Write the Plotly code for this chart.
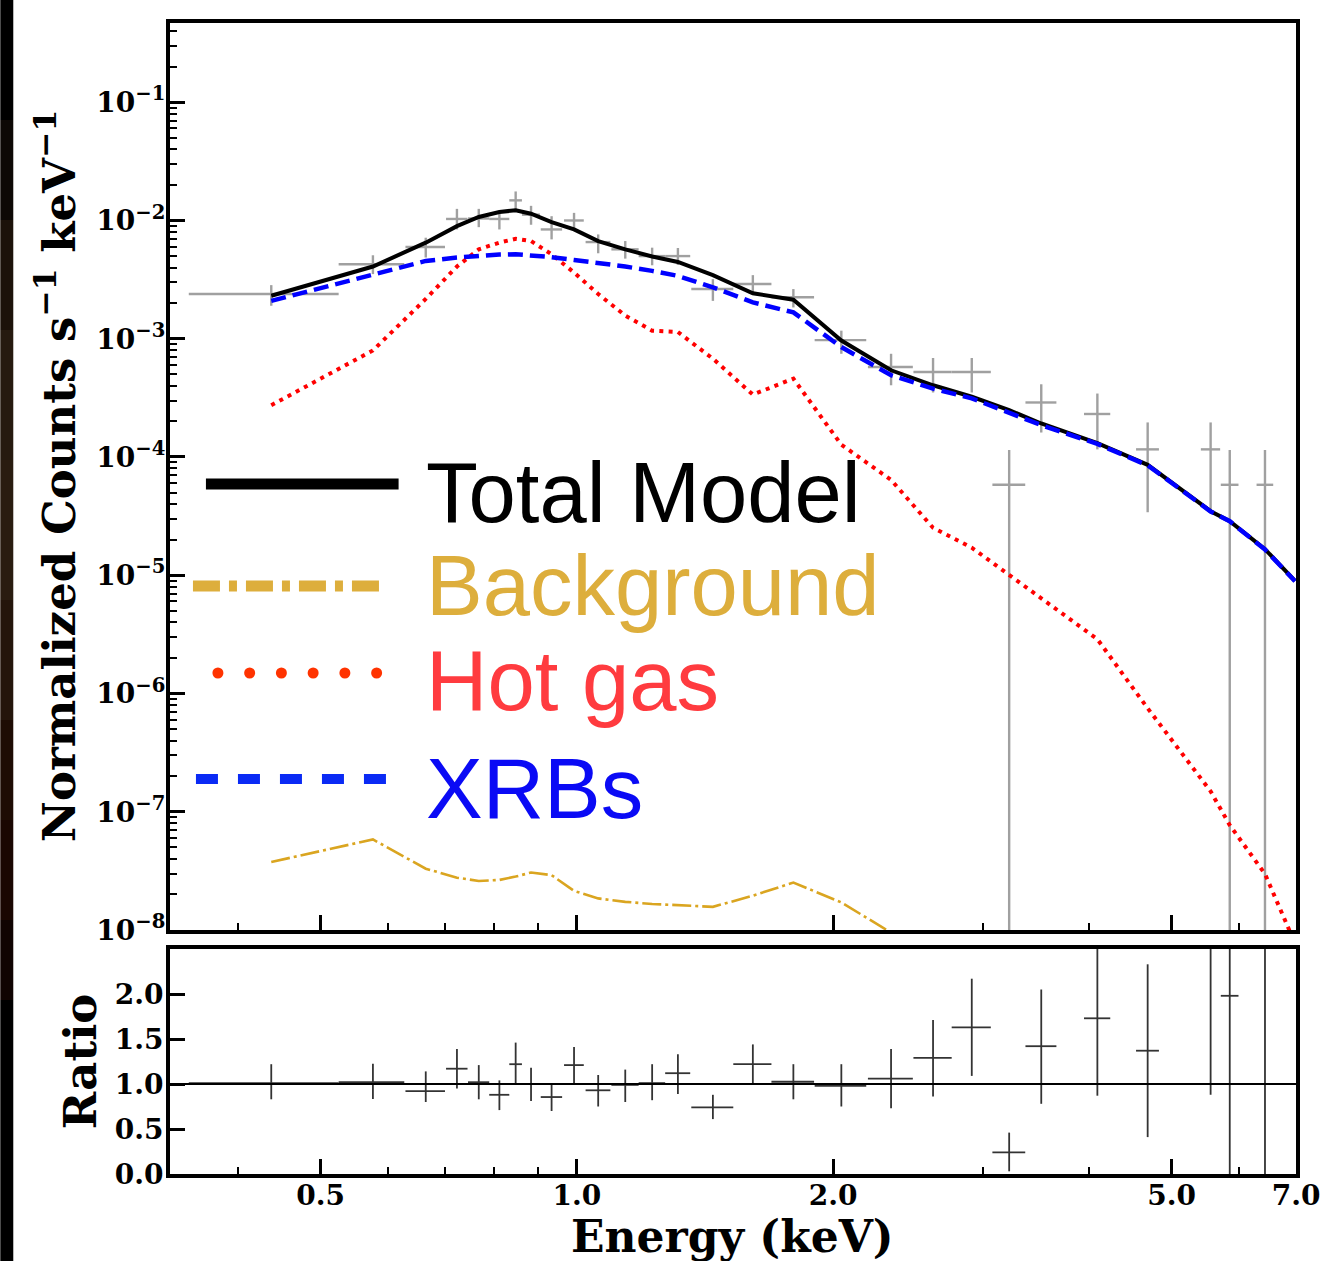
import plotly.graph_objects as go

# ---------------- data ----------------
# energy bins (keV)
e_lo = [0.350, 0.525, 0.629, 0.702, 0.745, 0.789, 0.833, 0.862, 0.907, 0.966,
        1.024, 1.098, 1.182, 1.270, 1.363, 1.527, 1.693, 1.903, 2.198, 2.486,
        2.757, 3.078, 3.366, 3.944, 4.540, 5.410, 5.710, 6.290]
e_hi = [0.525, 0.627, 0.700, 0.744, 0.789, 0.833, 0.862, 0.905, 0.961, 1.019,
        1.095, 1.182, 1.270, 1.359, 1.527, 1.693, 1.900, 2.188, 2.482, 2.757,
        3.065, 3.364, 3.660, 4.234, 4.830, 5.700, 5.990, 6.580]

# normalized counts s^-1 keV^-1 and error bar ends
counts = [2.39e-3, 4.26e-3, 5.96e-3, 1.03e-2, 1.04e-2, 1.03e-2, 1.48e-2, 1.12e-2, 8.4e-3, 1.0e-2,
          6.57e-3, 5.7e-3, 5.0e-3, 5.0e-3, 2.63e-3, 2.9e-3, 2.24e-3, 9.73e-4, 5.77e-4, 5.24e-4,
          5.24e-4, 5.82e-5, 2.89e-4, 2.31e-4, 1.16e-4, 1.16e-4, 5.82e-5, 5.82e-5]
counts_hi = [2.84e-3, 5.08e-3, 7.15e-3, 1.254e-2, 1.254e-2, 1.21e-2, 1.76e-2, 1.33e-2, 1.087e-2, 1.16e-2,
             7.62e-3, 6.7e-3, 5.89e-3, 5.85e-3, 3.19e-3, 3.45e-3, 2.63e-3, 1.17e-3, 7.46e-4, 6.87e-4,
             6.87e-4, 1.148e-4, 4.12e-4, 3.44e-4, 1.96e-4, 1.96e-4, 1.148e-4, 1.148e-4]
counts_lo = [1.90e-3, 3.52e-3, 4.86e-3, 8.4e-3, 8.78e-3, 8.4e-3, 1.20e-2, 9.2e-3, 6.92e-3, 8.13e-3,
             5.28e-3, 4.76e-3, 4.18e-3, 4.2e-3, 2.09e-3, 2.39e-3, 1.84e-3, 7.46e-4, 4.04e-4, 3.51e-4,
             3.51e-4, 1e-10, 1.61e-4, 1.16e-4, 3.41e-5, 3.41e-5, 1e-10, 1e-10]

# model curves at bin centres, plus the last model point near 7 keV
e_model_end = 6.98
total_model = [2.31e-3, 4.08e-3, 6.49e-3, 8.95e-3, 1.07e-2, 1.18e-2, 1.22e-2, 1.14e-2, 9.7e-3, 8.4e-3,
               6.7e-3, 5.7e-3, 4.96e-3, 4.46e-3, 3.45e-3, 2.42e-3, 2.14e-3, 9.66e-4, 5.41e-4, 4.04e-4,
               3.23e-4, 2.49e-4, 1.92e-4, 1.31e-4, 8.59e-5, 3.48e-5, 2.87e-5, 1.66e-5, 8.97e-6]
xrbs = [2.09e-3, 3.45e-3, 4.55e-3, 4.86e-3, 5.05e-3, 5.15e-3, 5.18e-3, 5.1e-3, 4.9e-3, 4.64e-3,
        4.4e-3, 4.08e-3, 3.75e-3, 3.40e-3, 2.72e-3, 2.03e-3, 1.67e-3, 8.5e-4, 4.91e-4, 3.79e-4,
        3.13e-4, 2.38e-4, 1.86e-4, 1.29e-4, 8.5e-5, 3.46e-5, 2.86e-5, 1.65e-5, 8.9e-6]
hot_gas = [2.74e-4, 7.96e-4, 2.17e-3, 4.08e-3, 5.7e-3, 6.5e-3, 7.0e-3, 6.7e-3, 5.18e-3, 3.63e-3,
           2.39e-3, 1.57e-3, 1.17e-3, 1.14e-3, 6.78e-4, 3.37e-4, 4.6e-4, 1.27e-4, 6.4e-5, 2.52e-5,
           1.71e-5, 1.01e-5, 6.49e-6, 2.88e-6, 7.5e-7, 1.49e-7, 7.7e-8, 2.98e-8, 7.7e-9]
background = [3.76e-8, 5.83e-8, 3.30e-8, 2.77e-8, 2.60e-8, 2.65e-8, 2.83e-8, 3.06e-8, 2.91e-8, 2.14e-8,
              1.85e-8, 1.73e-8, 1.66e-8, 1.63e-8, 1.57e-8, 1.95e-8, 2.52e-8, 1.71e-8, 9.5e-9]

# data / model ratio and error bar ends
ratio = [1.01, 1.02, 0.92, 1.17, 1.02, 0.88, 1.22, 1.00, 0.855, 1.21,
         0.93, 0.99, 1.01, 1.12, 0.74, 1.22, 1.025, 0.98, 1.06, 1.29,
         1.63, 0.24, 1.42, 1.73, 1.37, 2.60, 1.98, 3.40]
ratio_hi = [1.22, 1.225, 1.14, 1.39, 1.21, 1.04, 1.46, 1.18, 1.01, 1.41,
            1.10, 1.16, 1.22, 1.33, 0.88, 1.44, 1.22, 1.22, 1.39, 1.71,
            2.17, 0.46, 2.05, 2.70, 2.33, 4.00, 4.00, 5.00]
ratio_lo = [0.83, 0.833, 0.80, 0.95, 0.83, 0.71, 0.99, 0.81, 0.70, 1.00,
            0.75, 0.80, 0.82, 0.89, 0.61, 1.00, 0.83, 0.75, 0.73, 0.86,
            1.09, 0.03, 0.78, 0.87, 0.41, 0.88, -0.5, -0.5]

x_ticks = [0.5, 1.0, 2.0, 5.0, 7.0]
x_tick_text = ["0.5", "1.0", "2.0", "5.0", "7.0"]
x_minor = [0.4, 0.6, 0.7, 0.8, 0.9, 3.0, 4.0, 6.0]
y_ticks = [1e-8, 1e-7, 1e-6, 1e-5, 1e-4, 1e-3, 1e-2, 1e-1]
y_tick_text = ["10<sup>−8</sup>", "10<sup>−7</sup>", "10<sup>−6</sup>", "10<sup>−5</sup>",
               "10<sup>−4</sup>", "10<sup>−3</sup>", "10<sup>−2</sup>", "10<sup>−1</sup>"]
r_ticks = [0.0, 0.5, 1.0, 1.5, 2.0]
r_tick_text = ["0.0", "0.5", "1.0", "1.5", "2.0"]

legend_labels = ["Total Model", "Background", "Hot gas", "XRBs"]

# ---------------- derived ----------------
e_c = [(a + b) / 2 for a, b in zip(e_lo, e_hi)]
ex_plus = [b - c for b, c in zip(e_hi, e_c)]
ex_minus = [c - a for a, c in zip(e_lo, e_c)]
e_model = e_c + [e_model_end]
cy_plus = [h - v for h, v in zip(counts_hi, counts)]
cy_minus = [v - l for l, v in zip(counts_lo, counts)]
ry_plus = [h - v for h, v in zip(ratio_hi, ratio)]
ry_minus = [v - l for l, v in zip(ratio_lo, ratio)]

minor_y = [m * 10.0 ** k for k in range(-8, 0) for m in range(2, 10)]

SERIF = "DejaVu Serif"
SANS = "Liberation Sans"
W, H = 1332, 1261
ML, MR, MT, MB = 170, 34, 23, 87
PW, PH = W - ML - MR, H - MT - MB


def pxx(px):
    return (px - ML) / PW


def pxy(py):
    return (H - MB - py) / PH


fig = go.Figure()

# data crosses (top)
fig.add_trace(go.Scatter(
    x=e_c, y=counts, mode="markers", marker=dict(size=1, color="rgba(0,0,0,0)"),
    error_x=dict(type="data", array=ex_plus, arrayminus=ex_minus, symmetric=False,
                 color="#a0a0a0", thickness=2.4, width=0),
    error_y=dict(type="data", array=cy_plus, arrayminus=cy_minus, symmetric=False,
                 color="#a0a0a0", thickness=2.4, width=0),
    showlegend=False, xaxis="x", yaxis="y"))

fig.add_trace(go.Scatter(x=e_model[:len(background)], y=background, mode="lines",
                         line=dict(color="#DAA520", width=2.6, dash="19px,4px,3px,4px"),
                         showlegend=False, xaxis="x", yaxis="y"))
fig.add_trace(go.Scatter(x=e_model, y=hot_gas, mode="lines",
                         line=dict(color="#FF0000", width=4, dash="4px,5.3px"),
                         showlegend=False, xaxis="x", yaxis="y"))
fig.add_trace(go.Scatter(x=e_model, y=total_model, mode="lines",
                         line=dict(color="black", width=4),
                         showlegend=False, xaxis="x", yaxis="y"))
fig.add_trace(go.Scatter(x=e_model, y=xrbs, mode="lines",
                         line=dict(color="#0000FF", width=4.5, dash="15px,7px"),
                         showlegend=False, xaxis="x", yaxis="y"))

# ratio crosses (bottom)
fig.add_trace(go.Scatter(
    x=e_c, y=ratio, mode="markers", marker=dict(size=1, color="rgba(0,0,0,0)"),
    error_x=dict(type="data", array=ex_plus, arrayminus=ex_minus, symmetric=False,
                 color="#333333", thickness=1.8, width=0),
    error_y=dict(type="data", array=ry_plus, arrayminus=ry_minus, symmetric=False,
                 color="#333333", thickness=1.8, width=0),
    showlegend=False, xaxis="x2", yaxis="y2"))

axis_common = dict(showline=True, mirror=True, linewidth=4, linecolor="black",
                   ticks="inside", tickcolor="black", showgrid=False, zeroline=False,
                   tickfont=dict(family=SERIF, size=28, color="black", weight="bold"))

top_dom = [pxy(930), 1.0]
bot_dom = [0.0, pxy(949)]

fig.update_layout(
    width=W, height=H,
    margin=dict(l=ML, r=MR, t=MT, b=MB, pad=0),
    paper_bgcolor="white", plot_bgcolor="white",
    xaxis=dict(type="log", range=[-0.478, 0.845], domain=[0, 1], anchor="y",
               tickvals=x_ticks, ticktext=x_tick_text, showticklabels=False,
               ticklen=15, tickwidth=2.5,
               minor=dict(tickvals=x_minor, ticks="inside", ticklen=7, tickwidth=2,
                          tickcolor="black", showgrid=False),
               **axis_common),
    yaxis=dict(type="log", range=[-8.0, -0.33], domain=top_dom, anchor="x",
               tickvals=y_ticks, ticktext=y_tick_text, ticklen=15, tickwidth=2.5,
               ticklabelstandoff=-5,
               minor=dict(tickvals=minor_y, ticks="inside", ticklen=7, tickwidth=2,
                          tickcolor="black", showgrid=False),
               **axis_common),
    xaxis2=dict(type="log", range=[-0.478, 0.845], domain=[0, 1], anchor="y2",
                matches="x", tickvals=x_ticks, ticktext=x_tick_text,
                ticklen=15, tickwidth=2.5, ticklabelstandoff=-7,
                minor=dict(tickvals=x_minor, ticks="inside", ticklen=7, tickwidth=2,
                           tickcolor="black", showgrid=False),
                **axis_common),
    yaxis2=dict(range=[0, 2.5], domain=bot_dom, anchor="x2",
                tickvals=r_ticks, ticktext=r_tick_text, ticklen=15, tickwidth=2.5,
                ticklabelstandoff=-3,
                **axis_common),
)

shapes = []
# ratio = 1 reference line
shapes.append(dict(type="line", xref="x2 domain", yref="y2", x0=0, x1=1, y0=1, y1=1,
                   line=dict(color="black", width=2), layer="above"))

# dark strip on the left edge of the picture
strip = [(0, 120, "#000000"), (120, 220, "#0d0805"), (220, 330, "#1c120a"),
         (330, 460, "#261a0f"), (460, 600, "#2a1c10"), (600, 720, "#24150b"),
         (720, 820, "#1e0c04"), (820, 920, "#1a0702"), (920, 1000, "#100402"),
         (1000, 1261, "#000000")]
for y0, y1, c in strip:
    shapes.append(dict(type="rect", xref="paper", yref="paper",
                       x0=pxx(0), x1=pxx(13), y0=pxy(y1), y1=pxy(y0),
                       fillcolor=c, line=dict(width=0), layer="above"))

# legend handles
shapes.append(dict(type="line", xref="paper", yref="paper", x0=pxx(206), x1=pxx(399),
                   y0=pxy(484), y1=pxy(484), line=dict(color="black", width=11)))
shapes.append(dict(type="line", xref="paper", yref="paper", x0=pxx(193), x1=pxx(388),
                   y0=pxy(586), y1=pxy(586),
                   line=dict(color="#DDAE3C", width=11, dash="27px,9px,8px,9px")))
for k in range(6):
    cx = 218 + k * 31.8
    shapes.append(dict(type="circle", xref="paper", yref="paper",
                       xsizemode="pixel", ysizemode="pixel",
                       xanchor=pxx(cx), yanchor=pxy(673),
                       x0=-5.5, x1=5.5, y0=-5.5, y1=5.5,
                       fillcolor="#FF3300", line=dict(width=0)))
shapes.append(dict(type="line", xref="paper", yref="paper", x0=pxx(196), x1=pxx(388),
                   y0=pxy(779), y1=pxy(779),
                   line=dict(color="#0A2AF5", width=10, dash="22px,20px")))

annotations = []
leg_colors = ["#000000", "#DDAE3C", "#FF3B3F", "#0A0AF5"]
leg_y = [492, 585, 681, 788]
for lab, c, yy in zip(legend_labels, leg_colors, leg_y):
    annotations.append(dict(text=lab, xref="paper", yref="paper", x=pxx(424), y=pxy(yy),
                            xanchor="left", yanchor="middle", showarrow=False,
                            font=dict(family=SANS, size=85, color=c)))

annotations.append(dict(text="Normalized Counts s<sup>−1</sup> keV<sup>−1</sup>",
                        xref="paper", yref="paper", x=pxx(56), y=pxy(476),
                        xanchor="center", yanchor="middle", textangle=-90, showarrow=False,
                        font=dict(family=SERIF, size=45, color="black", weight="bold")))
annotations.append(dict(text="Ratio", xref="paper", yref="paper", x=pxx(80), y=pxy(1062),
                        xanchor="center", yanchor="middle", textangle=-90, showarrow=False,
                        font=dict(family=SERIF, size=45, color="black", weight="bold")))
annotations.append(dict(text="Energy (keV)", xref="paper", yref="paper", x=pxx(733), y=pxy(1236),
                        xanchor="center", yanchor="middle", showarrow=False, borderpad=0,
                        font=dict(family=SERIF, size=44, color="black", weight="bold")))

fig.update_layout(shapes=shapes, annotations=annotations)

fig.write_html("out.html")
